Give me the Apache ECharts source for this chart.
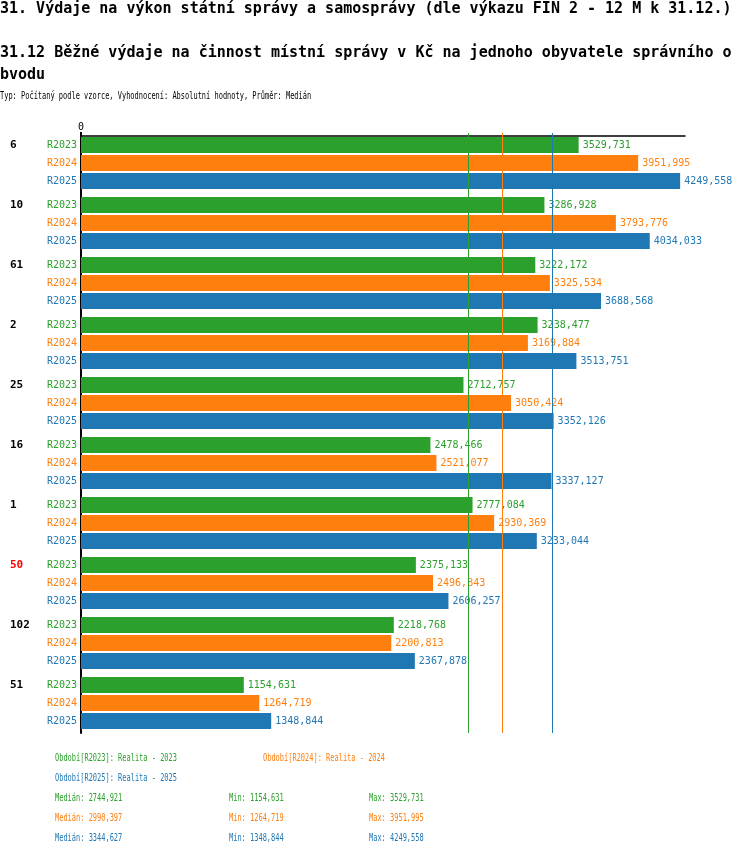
<!DOCTYPE html>
<html>
<head>
<meta charset="utf-8">
<script src="https://cdn.jsdelivr.net/npm/echarts@6/dist/echarts.min.js"></script>
<style>
  html, body { margin: 0; padding: 0; background: #fff; }
  #chart { width: 750px; height: 856px; }
</style>
</head>
<body>
<div id="chart"></div>
<script>
// data
var groups = ['6', '10', '61', '2', '25', '16', '1', '50', '102', '51'];
var highlightGroup = '50';
var periods = ['R2023', 'R2024', 'R2025'];
var periodNames = ['Realita - 2023', 'Realita - 2024', 'Realita - 2025'];
var r2023 = [3529.731, 3286.928, 3222.172, 3238.477, 2712.757, 2478.466, 2777.084, 2375.133, 2218.768, 1154.631];
var r2024 = [3951.995, 3793.776, 3325.534, 3169.884, 3050.424, 2521.077, 2930.369, 2496.843, 2200.813, 1264.719];
var r2025 = [4249.558, 4034.033, 3688.568, 3513.751, 3352.126, 3337.127, 3233.044, 2606.257, 2367.878, 1348.844];
var colors = ['#2ca02c', '#ff7f0e', '#1f77b4'];

var values = [r2023, r2024, r2025];
var MONO = '"DejaVu Sans Mono", monospace';

function fmt(v) {
    // round half up, then czech decimal comma
    return (Math.round(v * 1000 + 1e-6) / 1000).toFixed(3).replace('.', ',');
}
function median(arr) {
    var s = arr.slice().sort(function (a, b) { return a - b; });
    var m = Math.floor(s.length / 2);
    return s.length % 2 ? s[m] : (s[m - 1] + s[m]) / 2;
}

var chart = echarts.init(document.getElementById('chart'));

var series = values.map(function (arr, i) {
    return {
        name: periods[i],
        type: 'bar',
        data: arr,
        barWidth: 16,
        barGap: '12.5%',
        itemStyle: { color: colors[i] },
        label: {
            show: true,
            position: 'right',
            distance: 4,
            color: colors[i],
            fontFamily: MONO,
            fontSize: 10,
            formatter: function (p) { return fmt(p.value); }
        },
        markLine: {
            silent: true,
            symbol: 'none',
            label: { show: false },
            lineStyle: { color: colors[i], width: 1, type: 'solid' },
            data: [{ xAxis: median(arr) }]
        }
    };
});

// texts above and under the chart
var small = '11px ' + MONO;
var SX = 0.635;
var graphics = [
    { type: 'text', x: 0, y: 9, style: { text: '31. Výdaje na výkon státní správy a samosprávy (dle výkazu FIN 2 - 12 M k 31.12.)', font: 'bold 15px ' + MONO, fill: '#000', verticalAlign: 'middle' } },
    { type: 'text', x: 0, y: 53, style: { text: '31.12 Běžné výdaje na činnost místní správy v Kč na jednoho obyvatele správního o', font: 'bold 15px ' + MONO, fill: '#000', verticalAlign: 'middle' } },
    { type: 'text', x: 0, y: 75, style: { text: 'bvodu', font: 'bold 15px ' + MONO, fill: '#000', verticalAlign: 'middle' } },
    { type: 'text', x: 0, y: 96, scaleX: SX, style: { text: 'Typ: Počítaný podle vzorce, Vyhodnocení: Absolutní hodnoty, Průměr: Medián', font: small, fill: '#000', verticalAlign: 'middle' } }
];
var legendPos = [[55, 758], [263, 758], [55, 778]];
periods.forEach(function (p, i) {
    graphics.push({ type: 'text', x: legendPos[i][0], y: legendPos[i][1], scaleX: SX,
        style: { text: 'Období[' + p + ']: ' + periodNames[i], font: small, fill: colors[i], verticalAlign: 'middle' } });
    var y = 798 + i * 20;
    graphics.push({ type: 'text', x: 55, y: y, scaleX: SX,
        style: { text: 'Medián: ' + fmt(median(values[i])), font: small, fill: colors[i], verticalAlign: 'middle' } });
    graphics.push({ type: 'text', x: 229, y: y, scaleX: SX,
        style: { text: 'Min: ' + fmt(Math.min.apply(null, values[i])), font: small, fill: colors[i], verticalAlign: 'middle' } });
    graphics.push({ type: 'text', x: 369, y: y, scaleX: SX,
        style: { text: 'Max: ' + fmt(Math.max.apply(null, values[i])), font: small, fill: colors[i], verticalAlign: 'middle' } });
});

var rich = {
    g: { width: 37, align: 'left', fontWeight: 'bold', fontSize: 11, color: '#000', fontFamily: MONO, lineHeight: 18 },
    gRed: { width: 37, align: 'left', fontWeight: 'bold', fontSize: 11, color: '#ff0000', fontFamily: MONO, lineHeight: 18 }
};
periods.forEach(function (p, i) {
    rich['r' + i] = { color: colors[i], fontSize: 10, fontFamily: MONO, lineHeight: 18 };
});

chart.setOption({
    animation: false,
    grid: { left: 81, top: 133, width: 604, height: 600 },
    xAxis: {
        type: 'value',
        position: 'top',
        offset: -3,
        min: 0,
        max: 4284,
        splitLine: { show: false },
        axisLine: { show: true, lineStyle: { color: '#000', width: 1.5 } },
        axisTick: { show: true, length: 4, lineStyle: { color: '#000', width: 2 }, customValues: [0] },
        axisLabel: { show: true, margin: 4, fontFamily: MONO, fontSize: 10, color: '#000', customValues: [0] }
    },
    yAxis: {
        type: 'category',
        inverse: true,
        data: groups,
        axisLine: { show: true, lineStyle: { color: '#000', width: 2 } },
        axisTick: { show: false },
        axisLabel: {
            margin: 4,
            align: 'right',
            rich: rich,
            formatter: function (v) {
                var g = v === highlightGroup ? 'gRed' : 'g';
                return '{' + g + '|' + v + '}{r0|' + periods[0] + '}\n{r1|' + periods[1] + '}\n{r2|' + periods[2] + '}';
            }
        }
    },
    series: series,
    graphic: graphics
});
</script>
</body>
</html>
